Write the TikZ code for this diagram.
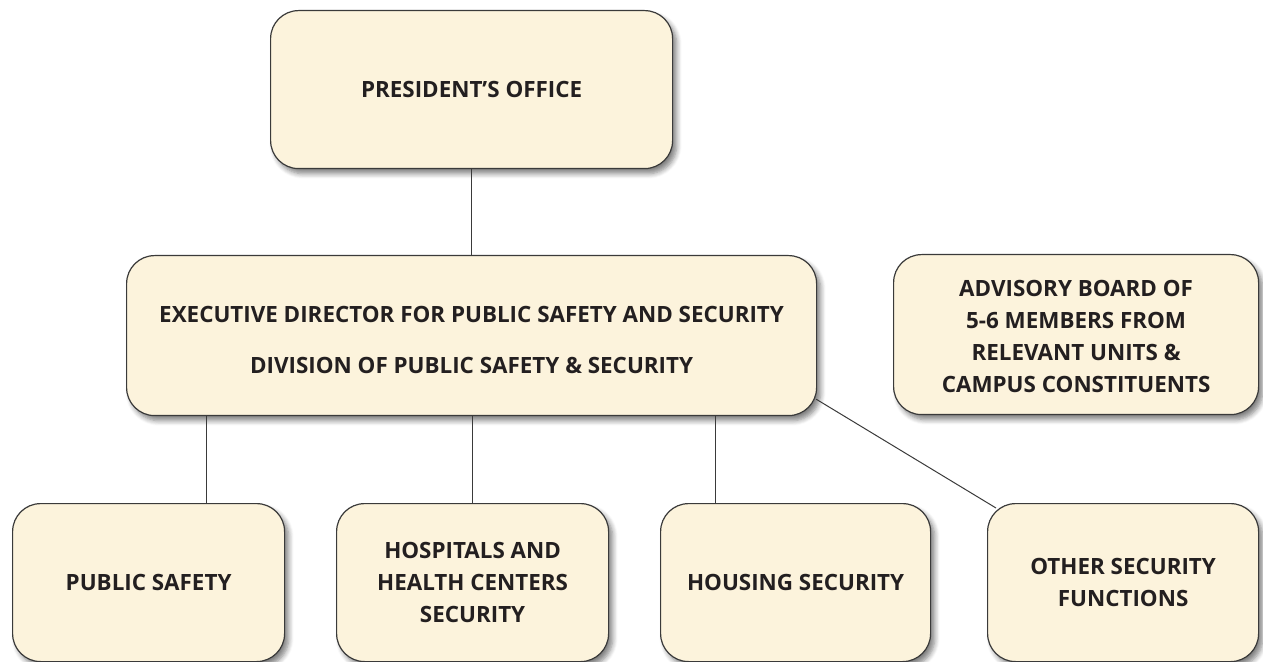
\documentclass[tikz,border=0pt]{standalone}
\usepackage{fontspec}
\setmainfont{Open Sans}
\usetikzlibrary{shadows.blur,calc}
\definecolor{boxfill}{HTML}{FCF3DC}
\definecolor{boxline}{HTML}{3A3A3A}
\definecolor{ink}{HTML}{231F20}
\tikzset{
  unit/.style={draw=boxline, line width=0.6pt, fill=boxfill, rounded corners=14pt,
    anchor=north west, inner sep=0pt, align=center, text=ink,
    font=\bfseries\fontsize{11.2}{16}\selectfont,
    blur shadow={shadow xshift=2pt, shadow yshift=-2.5pt, shadow blur steps=6,
      shadow blur radius=2.5pt, shadow opacity=50}},
  link/.style={draw=boxline, line width=0.5pt}
}
\begin{document}
\begin{tikzpicture}[x=0.5pt,y=-0.5pt]
\useasboundingbox (0,0) rectangle (1263,662);
\node[unit, minimum width=201pt, minimum height=79pt] (pres) at (270,10) {PRESIDENT’S OFFICE};
\node[unit, minimum width=345pt, minimum height=80pt] (exec) at (126,255)
  {\rule{0pt}{13pt}EXECUTIVE DIRECTOR FOR PUBLIC SAFETY AND SECURITY\\[9.5pt]DIVISION OF PUBLIC SAFETY \& SECURITY};
\node[unit, minimum width=182.5pt, minimum height=80pt] (adv) at (893,254)
  {\rule{0pt}{10pt}ADVISORY BOARD OF\\5-6 MEMBERS FROM\\RELEVANT UNITS \&\\CAMPUS CONSTITUENTS};
\node[unit, minimum width=136pt, minimum height=79pt] (ps) at (12,503) {PUBLIC SAFETY};
\node[unit, minimum width=136pt, minimum height=79pt] (hosp) at (336,503)
  {HOSPITALS AND\\HEALTH CENTERS\\SECURITY};
\node[unit, minimum width=135pt, minimum height=79pt] (hous) at (660,503) {HOUSING SECURITY};
\node[unit, minimum width=135.5pt, minimum height=79pt] (other) at (987,503)
  {OTHER SECURITY\\FUNCTIONS};
% connectors (shifts are in pt; one unit of the grid is 0.5pt)
\draw[link] (pres.south) -- (exec.north);
\draw[link] ([xshift=29pt]ps.north) -- ([xshift=29pt]ps.north |- exec.south);
\draw[link] (hosp.north) -- (hosp.north |- exec.south);
\draw[link] ([xshift=-40pt]hous.north) -- ([xshift=-40pt]hous.north |- exec.south);
\draw[link] ([xshift=-0.5pt,yshift=8.5pt]exec.south east) -- ([xshift=4.5pt,yshift=-2.5pt]other.north west);
\end{tikzpicture}
\end{document}
